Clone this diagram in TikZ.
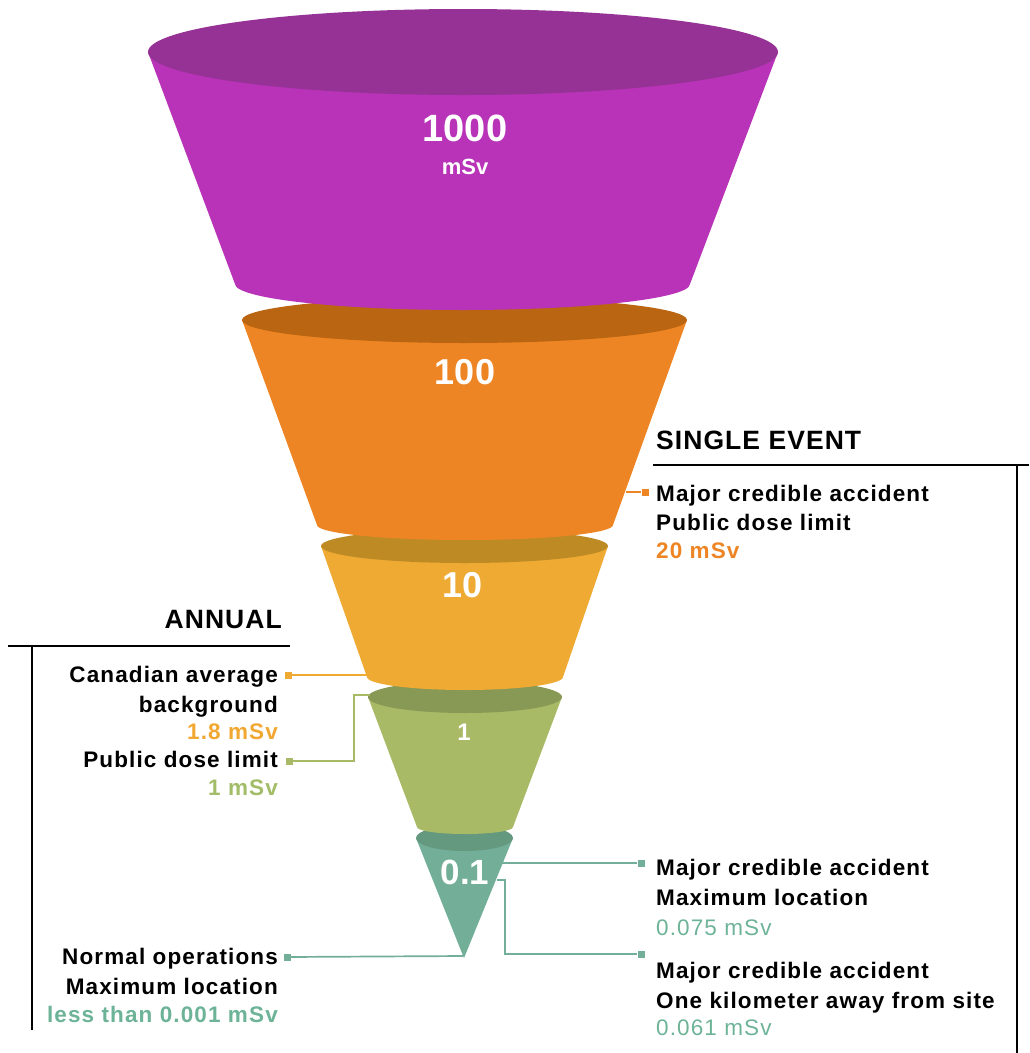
\documentclass[tikz,border=0pt]{standalone}
\usepackage{fontspec}
\setmainfont{Liberation Sans}
\newfontfamily\labfont[LetterSpace=5]{Liberation Sans}
\newfontfamily\headfont[LetterSpace=4]{Liberation Sans}
\definecolor{purpleBody}{HTML}{B833B8}
\definecolor{purpleTop}{HTML}{963296}
\definecolor{orangeBody}{HTML}{EE8524}
\definecolor{orangeTop}{HTML}{BA6512}
\definecolor{yellowBody}{HTML}{EEAA33}
\definecolor{yellowTop}{HTML}{BE8A24}
\definecolor{greenBody}{HTML}{A8BA66}
\definecolor{greenTop}{HTML}{889855}
\definecolor{tealBody}{HTML}{72AE98}
\definecolor{tealTop}{HTML}{64987F}
\definecolor{orangeTxt}{HTML}{EE8524}
\definecolor{yellowTxt}{HTML}{F0A832}
\definecolor{greenTxt}{HTML}{A2BC68}
\definecolor{tealTxt}{HTML}{6DB398}
\begin{document}
\begin{tikzpicture}[x=1pt,y=-1pt,
  lab/.style={font=\labfont\bfseries\fontsize{22.5}{22.5}\selectfont, inner sep=0pt},
  labreg/.style={font=\labfont\fontsize{22.5}{22.5}\selectfont, inner sep=0pt},
  labL/.style={anchor=base east},
  labR/.style={anchor=base west},
  head/.style={font=\headfont\bfseries\fontsize{26.5}{26.5}\selectfont, inner sep=0pt},
  num/.style={font=\bfseries\fontsize{#1}{#1}\selectfont, text=white, inner sep=0pt},
  sq/.style={fill=#1, minimum size=7pt, inner sep=0pt, draw=none},
  conn/.style={draw=#1, line width=1.7pt},
  bracket/.style={line width=2.6pt, black}
]
\useasboundingbox (0,0) rectangle (1029,1053);

% ---- teal segment
\fill[tealBody] (416,838) -- (464,958) -- (513,838) -- cycle;
\fill[tealTop] (464.5,838) ellipse [x radius=48.5, y radius=13];
% ---- green segment
\fill[greenBody] (368,697) -- (417,827) arc[start angle=180, end angle=0, x radius=48, y radius=7] -- (562,697) -- cycle;
\fill[greenTop] (465,697) ellipse [x radius=97, y radius=16];
% ---- yellow segment
\fill[yellowBody] (321,546) -- (367,677) arc[start angle=180, end angle=0, x radius=98, y radius=13] -- (608,546) -- cycle;
\fill[yellowTop] (464.5,546) ellipse [x radius=143.5, y radius=17];
% ---- orange segment
\fill[orangeBody] (242,320) -- (317,525) arc[start angle=180, end angle=0, x radius=148, y radius=15] -- (687,320) -- cycle;
\fill[orangeTop] (464.5,320) ellipse [x radius=222.5, y radius=23];
% ---- purple segment
\fill[purpleBody] (148,52) -- (235,284) arc[start angle=180, end angle=0, x radius=227.5, y radius=26] -- (778,52) -- cycle;
\fill[purpleTop] (463,52) ellipse [x radius=315, y radius=43];

% ---- numbers
\node[num=38] (n1000) at (465,128) {1000};
\node[num=22] (nmsv) at (465,167) {mSv};
\node[num=36] (n100) at (465,372) {100};
\node[num=36] (n10) at (463,585) {10};
\node[num=24] (n1) at (464,732) {1};
\node[num=35] (n01) at (465,872) {0.1};

% ---- brackets and headings
\node[head, anchor=base east] (annual) at (282,628) {ANNUAL};
\node[head, anchor=base west] (single) at (656,449) {SINGLE EVENT};
\coordinate (aL) at (8,646); \coordinate (aR) at (290,646);
\coordinate (aT) at (32,646); \coordinate (aB) at (32,1030);
\draw[bracket] (aL) -- (aR);
\draw[bracket] (aT) -- (aB);
\coordinate (sL) at (653,465); \coordinate (sR) at (1029,465);
\coordinate (sT) at (1017,465); \coordinate (sB) at (1017,1053);
\draw[bracket] (sL) -- (sR);
\draw[bracket] (sT) -- (sB);

% ---- left labels
\node[lab, labL] (ca1) at (278,682) {Canadian average};
\node[lab, labL] (ca2) at (278,712) {background};
\node[lab, labL, text=yellowTxt] (ca3) at (278,739) {1.8 mSv};
\node[lab, labL] (pd1) at (278,767) {Public dose limit};
\node[lab, labL, text=greenTxt] (pd2) at (278,795) {1 mSv};
\node[lab, labL] (no1) at (278,964) {Normal operations};
\node[lab, labL] (no2) at (278,994) {Maximum location};
\node[lab, labL, text=tealTxt] (no3) at (278,1022) {less than 0.001 mSv};

% ---- right labels
\node[lab, labR] (ma1) at (656,501) {Major credible accident};
\node[lab, labR] (ma2) at (656,530) {Public dose limit};
\node[lab, labR, text=orangeTxt] (ma3) at (656,558) {20 mSv};
\node[lab, labR] (mb1) at (656,875) {Major credible accident};
\node[lab, labR] (mb2) at (656,905) {Maximum location};
\node[labreg, labR, text=tealTxt] (mb3) at (656,935) {0.075 mSv};
\node[lab, labR] (mc1) at (656,978) {Major credible accident};
\node[lab, labR] (mc2) at (656,1008) {One kilometer away from site};
\node[labreg, labR, text=tealTxt] (mc3) at (656,1035) {0.061 mSv};

% ---- connectors
\node[sq=orangeBody] (sqO) at (645,492) {};
\coordinate (pO) at (626,492);
\draw[conn=orangeBody] (pO) -- (sqO);

\node[sq=yellowBody] (sqY) at (288,675) {};
\coordinate (pY) at (368,675);
\draw[conn=yellowBody] (sqY) -- (pY);

\node[sq=greenBody] (sqG) at (289,761) {};
\coordinate (pG) at (370,695);
\draw[conn=greenBody] (sqG) -- (354,761) -- (354,695) -- (pG);

\node[sq=tealBody] (sqT1) at (641,863) {};
\coordinate (pT1) at (502,863);
\draw[conn=tealBody] (pT1) -- (sqT1);

\node[sq=tealBody] (sqT2) at (641,954) {};
\coordinate (pT2) at (497,880);
\draw[conn=tealBody] (pT2) -- (505,880) -- (505,954) -- (sqT2);

\node[sq=tealBody] (sqT3) at (287,957) {};
\coordinate (pT3) at (463,956);
\draw[conn=tealBody] (sqT3) -- (pT3);
\end{tikzpicture}
\end{document}
